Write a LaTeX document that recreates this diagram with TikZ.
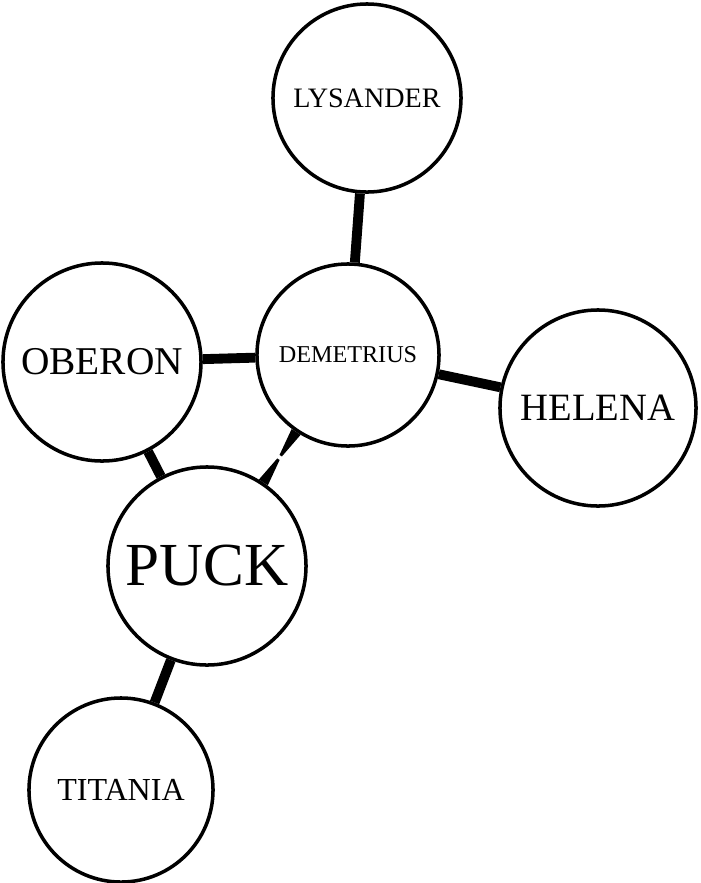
\documentclass[tikz,border=0pt]{standalone}
\usepackage{fontspec}
\setmainfont{Liberation Serif}
\usepackage{tikz}
\usetikzlibrary{calc,positioning}

\tikzset{
	person/.style={draw, circle, line width=2.5pt, inner sep=0pt},
	link/.style={line width=7pt}
}

\begin{document}
\begin{tikzpicture}[x=0.025cm, y=-0.025cm]
	\useasboundingbox (0,0) rectangle (700,883);

	% Characters
	\node[person, minimum size=4.7cm, font=\fontsize{20}{20}\selectfont] (lysander) at (367,98) {LYSANDER};
	\node[person, minimum size=4.55cm, font=\fontsize{17.2}{17.2}\selectfont] (demetrius) at (348,355) {DEMETRIUS};
	\node[person, minimum size=4.95cm, font=\fontsize{28}{28}\selectfont] (oberon) at (102,362) {OBERON};
	\node[person, minimum size=4.9cm, font=\fontsize{27.5}{27.5}\selectfont] (helena) at (598,408) {HELENA};
	\node[person, minimum size=4.95cm, font=\fontsize{43.5}{43.5}\selectfont] (puck) at (207,566) {PUCK};
	\node[person, minimum size=4.6cm, font=\fontsize{22.8}{22.8}\selectfont] (titania) at (121,790) {TITANIA};

	% Links
	\draw[link] (lysander) -- (demetrius);
	\draw[link] (oberon) -- (demetrius);
	\draw[link] (demetrius) -- (helena);
	\draw[link] (oberon) -- (puck);
	\draw[link] (puck) -- (titania);

	% Broken link
	\coordinate (dtop) at (demetrius.236.25);
	\coordinate (pbot) at (puck.56.25);
	\coordinate (dmid) at ($(dtop)!0.47!(pbot)$);
	\coordinate (pmid) at ($(dtop)!0.54!(pbot)$);
	\fill ($(dtop)!3.8pt!90:(pbot)$) -- ($(dtop)!3.8pt!-90:(pbot)$) -- ($(dmid)!1pt!-90:(pbot)$) -- ($(dmid)!1pt!90:(pbot)$) -- cycle;
	\fill ($(pbot)!3.8pt!90:(dtop)$) -- ($(pbot)!3.8pt!-90:(dtop)$) -- ($(pmid)!1pt!-90:(dtop)$) -- ($(pmid)!1pt!90:(dtop)$) -- cycle;
\end{tikzpicture}
\end{document}
